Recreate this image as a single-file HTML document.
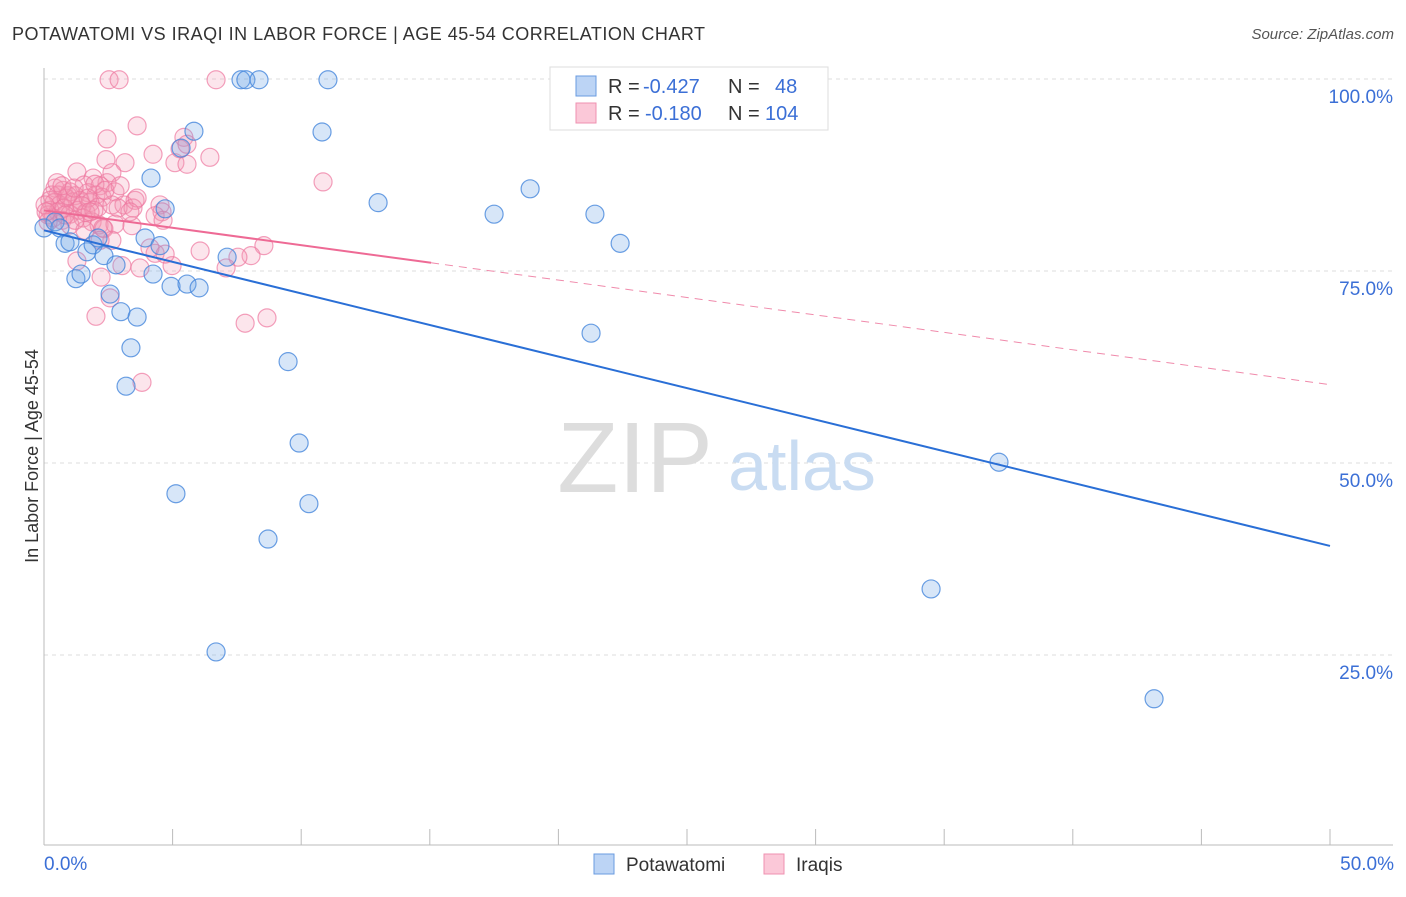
<!DOCTYPE html>
<html><head><meta charset="utf-8"><style>
body{margin:0;background:#fff;font-family:"Liberation Sans",sans-serif}
svg text{font-family:"Liberation Sans",sans-serif}
</style></head><body>
<svg id="chart" width="1406" height="892">
<text x="12" y="40" font-size="18" fill="#333" textLength="693">POTAWATOMI VS IRAQI IN LABOR FORCE | AGE 45-54 CORRELATION CHART</text>
<text x="1394" y="39" font-size="15" fill="#555" text-anchor="end" font-style="italic">Source: ZipAtlas.com</text>
<g id="grid"></g>
<g><text x="635" y="492" font-size="100" font-family="Liberation Serif,serif" fill="#ddd" text-anchor="middle">ZIP</text><text x="802" y="490" font-size="70" fill="#c9dcf2" text-anchor="middle">atlas</text></g>
<line x1="44" y1="68" x2="44" y2="845" stroke="#bbb"/>
<line x1="44" y1="845" x2="1393" y2="845" stroke="#bbb"/>
<g id="pts"></g>
<g id="lines"></g>
<text font-size="18" fill="#333" transform="rotate(-90 32 456)" text-anchor="middle"><tspan x="32" y="462">In Labor Force | Age 45-54</tspan></text>
<text x="44" y="870" font-size="19" fill="#3b6fd6">0.0%</text>
<text x="1394" y="870" font-size="19" fill="#3b6fd6" text-anchor="end">50.0%</text>
<g>
<rect x="550" y="67" width="278" height="63" fill="#fff" stroke="#ddd"/>
<rect x="576" y="76" width="20" height="20" fill="#bcd4f5" stroke="#6a9be0"/>
<rect x="576" y="103" width="20" height="20" fill="#fbc8d8" stroke="#ef91b0"/>
<text x="608" y="93" font-size="20" fill="#333">R = <tspan x="643" fill="#3b6fd6">-0.427</tspan><tspan x="728">N = </tspan><tspan x="775" fill="#3b6fd6">48</tspan></text>
<text x="608" y="120" font-size="20" fill="#333">R = <tspan x="645" fill="#3b6fd6">-0.180</tspan><tspan x="728">N = </tspan><tspan x="765" fill="#3b6fd6">104</tspan></text>
</g>
<g>
<rect x="594" y="854" width="20" height="20" fill="#bcd4f5" stroke="#6a9be0"/>
<text x="626" y="871" font-size="19" fill="#333">Potawatomi</text>
<rect x="764" y="854" width="20" height="20" fill="#fbc8d8" stroke="#ef91b0"/>
<text x="796" y="871" font-size="19" fill="#333">Iraqis</text>
</g>
</svg>
<script>
const yTicks=[25,50,75,100];
const xTickVals=[0,5,10,15,20,25,30,35,40,45,50];
const blueX=[0,0.43,0.62,0.82,1.01,1.24,1.44,1.67,1.91,2.10,2.33,2.57,2.80,2.99,3.19,3.38,3.62,3.93,4.16,4.24,4.51,4.71,4.94,5.13,5.33,5.56,5.83,6.03,6.69,7.12,7.66,7.85,8.36,8.71,9.49,9.92,10.30,10.81,11.04,12.99,17.50,18.90,21.27,21.42,22.40,34.49,37.13,43.16];
const blueY=[80.6,81.4,80.6,78.6,78.8,74.0,74.6,77.5,78.4,79.3,77.0,72.0,75.8,69.7,60.0,65.0,69.0,79.3,87.1,74.6,78.3,83.1,73.0,46.0,91.0,73.3,93.2,72.8,25.4,76.8,99.9,99.9,99.9,40.1,63.2,52.6,44.7,93.1,99.9,83.9,82.4,85.7,66.9,82.4,78.6,33.6,50.1,19.3];
const pinkX=[2.53,2.92,6.69,3.62,2.45,5.44,4.24,6.45,2.41,3.15,5.09,5.56,1.28,2.64,1.91,10.85,2.45,1.56,2.18,0.43,0.74,1.01,0.54,1.21,1.71,2.02,2.26,2.76,0.23,0.39,0.62,0.86,1.13,1.40,1.79,2.10,2.64,3.11,3.54,4.51,0.23,0.54,0.78,1.01,1.32,1.63,2.88,3.46,3.62,4.59,0.16,0.35,0.70,1.52,1.87,2.14,2.33,2.76,3.42,4.32,0.16,1.01,2.64,1.59,2.29,5.29,5.56,6.07,8.55,8.05,7.54,4.98,4.32,4.12,4.71,7.08,3.73,3.03,1.28,2.22,2.57,2.02,7.82,8.67,3.81,1.71,1.98,2.37,2.96,0.93,0.31,0.51,0.70,1.17,1.48,1.94,0.04,0.08,0.82,1.21,1.79,2.18,3.34,4.63];
const pinkY=[99.9,99.9,99.9,93.9,92.2,92.4,90.2,89.8,89.5,89.1,89.1,88.9,87.9,87.8,87.1,86.6,86.5,86.2,86.1,85.8,85.5,85.3,84.9,84.8,85.2,84.9,84.6,85.3,84.2,83.9,83.6,84.5,84.0,84.2,83.9,83.3,83.6,83.6,84.2,83.6,82.9,82.7,83.2,82.4,82.9,82.6,83.2,83.2,84.5,82.7,82.3,81.9,81.6,81.9,81.4,81.0,80.5,81.1,80.9,82.2,81.4,81.0,79.0,80.3,80.6,90.9,91.5,77.6,78.3,77.0,76.8,75.7,77.3,78.0,77.2,75.4,75.4,75.7,76.3,74.2,71.5,69.1,68.2,68.9,60.5,84.5,86.3,85.5,86.1,84.8,84.9,86.5,86.1,85.8,83.5,82.9,83.6,82.7,82.3,81.6,82.7,79.0,82.7,81.6];
const blueTrend=[80.3,39.2];
const pinkTrend=[82.9,60.2];
const pinkSolidEnd=15.05;
const NS='http://www.w3.org/2000/svg';
const sx=v=>44+v/50*1286, sy=v=>847-v*7.68;
function mk(t,a,p){const e=document.createElementNS(NS,t);for(const k in a)e.setAttribute(k,a[k]);p.appendChild(e);return e;}
const grid=document.getElementById('grid');
yTicks.forEach(t=>{
 const l=mk('line',{x1:44,x2:1393,y1:sy(t),y2:sy(t),stroke:'#ddd','stroke-dasharray':'4,4'},grid);
 
 
 const tx=mk('text',{x:1393,y:sy(t)+24,'font-size':19,fill:'#3b6fd6','text-anchor':'end'},grid);
 tx.textContent=t.toFixed(1)+'%';
 
 
});
xTickVals.forEach(t=>{
 const l=mk('line',{x1:sx(t),x2:sx(t),y1:829,y2:845,stroke:'#bbb'},grid);
 
 
});
const pts=document.getElementById('pts');
pinkX.forEach((x,i)=>{
 const c=mk('circle',{cx:sx(x),cy:sy(pinkY[i]),r:9,fill:'rgba(244,150,180,0.25)',stroke:'rgba(238,120,160,0.7)','stroke-width':1.2},pts);
 
 
});
blueX.forEach((x,i)=>{
 const c=mk('circle',{cx:sx(x),cy:sy(blueY[i]),r:9,fill:'rgba(110,165,230,0.28)',stroke:'rgba(70,135,220,0.8)','stroke-width':1.2},pts);
 
 
});
const lines=document.getElementById('lines');
const py=x=>pinkTrend[0]+(pinkTrend[1]-pinkTrend[0])*x/50;
let l1=mk('line',{x1:sx(0),y1:sy(blueTrend[0]),x2:sx(50),y2:sy(blueTrend[1]),stroke:'#2a6fd6','stroke-width':2},lines);


let l2=mk('line',{x1:sx(0),y1:sy(py(0)),x2:sx(pinkSolidEnd),y2:sy(py(pinkSolidEnd)),stroke:'#ee6a95','stroke-width':2},lines);


let l3=mk('line',{x1:sx(pinkSolidEnd),y1:sy(py(pinkSolidEnd)),x2:sx(50),y2:sy(py(50)),stroke:'#f08aab','stroke-width':1,'stroke-dasharray':'8,6'},lines);


</script>
</body></html>
